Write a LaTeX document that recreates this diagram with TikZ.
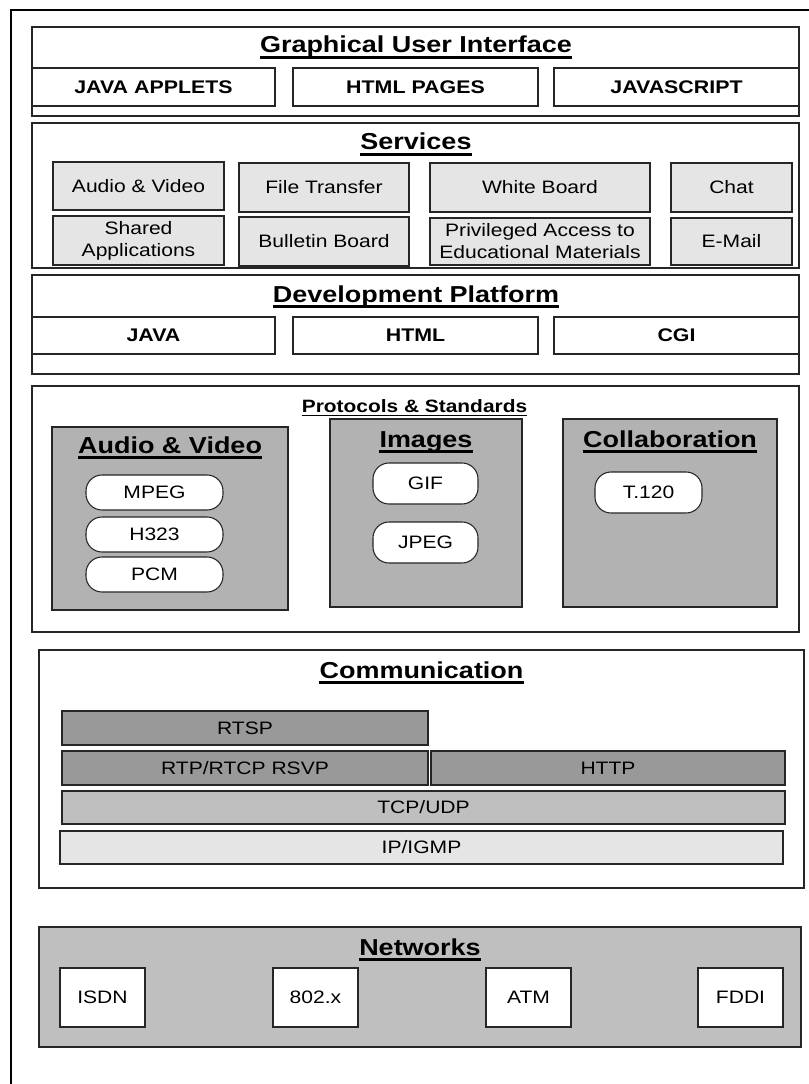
\documentclass[tikz,border=0pt]{standalone}
\usepackage{fontspec}
\setmainfont{Liberation Sans}[FakeStretch=1.17]
\usetikzlibrary{fit}
\definecolor{lightfill}{gray}{0.90}
\definecolor{protofill}{gray}{0.70}
\definecolor{darkfill}{gray}{0.60}
\definecolor{netfill}{gray}{0.75}

\begin{document}
\begin{tikzpicture}[x=0.75pt,y=-0.75pt,
      layer/.style={draw=black!85,line width=0.8pt,inner sep=0pt},
      lbl/.style={align=center,font=\fontsize{13.5}{16.5}\selectfont},
      cell/.style={layer,label={[lbl]center:#1}},
      bcell/.style={layer,label={[lbl,font=\fontsize{13.7}{16}\selectfont\bfseries]center:#1}},
      svc/.style={cell={#1},fill=lightfill},
      pill/.style={cell={#1},fill=white,rounded corners=12pt},
      ttl/.style={inner sep=0pt,anchor=base,font=\fontsize{17.3}{20}\selectfont\bfseries},
      uline/.style={line width=1.8pt},
  ]
  \useasboundingbox (0,0) rectangle (809,1084);
  % outer frame (top and left only)
  \draw[line width=2.2pt] (11,1084) -- (11,10) -- (809,10);

  %--- Graphical User Interface ---
  \node[layer,fit={(32,27) (799,116)}] (gui) {};
  \node[ttl] (gui-t) at (416,53) {Graphical User Interface};
  \node[bcell={JAVA APPLETS},fit={(32,68) (275,106)}] (applets) {};
  \node[bcell={HTML PAGES},fit={(293,68) (538,106)}] (pages) {};
  \node[bcell={JAVASCRIPT},fit={(554,68) (799,106)}] (script) {};

  %--- Services ---
  \node[layer,fit={(32,123) (799,268)}] (svcs) {};
  \node[ttl] (svcs-t) at (416,150) {Services};
  \node[svc={Audio \& Video},fit={(53,162) (224,210)}] (av) {};
  \node[svc={File Transfer},fit={(239,163) (409,212)}] (ftp) {};
  \node[svc={White Board},fit={(430,163) (650,212)}] (wb) {};
  \node[svc={Chat},fit={(671,163) (792,212)}] (chat) {};
  \node[svc={Shared\\Applications},fit={(53,216) (224,265)}] (shared) {};
  \node[svc={Bulletin Board},fit={(239,217) (409,266)}] (bb) {};
  \node[svc={Privileged Access to\\Educational Materials},fit={(430,218) (650,265)}] (priv) {};
  \node[svc={E-Mail},fit={(671,218) (792,265)}] (mail) {};

  %--- Development Platform ---
  \node[layer,fit={(32,275) (799,374)}] (dev) {};
  \node[ttl] (dev-t) at (416,302) {Development Platform};
  \node[bcell={JAVA},fit={(32,317) (275,354)}] (java) {};
  \node[bcell={HTML},fit={(293,317) (538,354)}] (html) {};
  \node[bcell={CGI},fit={(554,317) (799,354)}] (cgi) {};

  %--- Protocols & Standards ---
  \node[layer,fit={(32,386) (799,632)}] (proto) {};
  \node[ttl,font=\fontsize{13.4}{16}\selectfont\bfseries] (proto-t) at (414.5,412)
    {Protocols \& Standards};
  \node[layer,fill=protofill,fit={(52,427) (288,610)}] (pav) {};
  \node[layer,fill=protofill,fit={(330,419) (522,607)}] (pimg) {};
  \node[layer,fill=protofill,fit={(563,419) (777,607)}] (pcol) {};
  \node[ttl] (pav-t) at (170,453) {Audio \& Video};
  \node[ttl] (pimg-t) at (426,447) {Images};
  \node[ttl] (pcol-t) at (670,447) {Collaboration};
  \node[pill={MPEG},fit={(86,475) (223,510)}] (mpeg) {};
  \node[pill={H323},fit={(86,517) (223,552)}] (h323) {};
  \node[pill={PCM},fit={(86,557) (223,592)}] (pcm) {};
  \node[pill={GIF},fit={(373,463) (478,504)}] (gif) {};
  \node[pill={JPEG},fit={(373,522) (478,563)}] (jpeg) {};
  \node[pill={T.120},fit={(595,472) (702,513)}] (t120) {};

  %--- Communication ---
  \node[layer,fit={(39,650) (804,888)}] (comm) {};
  \node[ttl] (comm-t) at (421.5,678) {Communication};
  \node[cell={RTSP},fill=darkfill,fit={(62,711) (428,745)}] (rtsp) {};
  \node[cell={RTP/RTCP RSVP},fill=darkfill,fit={(62,751) (428,785)}] (rtp) {};
  \node[cell={HTTP},fill=darkfill,fit={(431,751) (785,785)}] (http) {};
  \node[cell={TCP/UDP},fill=netfill,fit={(62,791) (785,824)}] (tcp) {};
  \node[cell={IP/IGMP},fill=lightfill,fit={(60,831) (783,864)}] (ip) {};

  %--- Networks ---
  \node[layer,fill=netfill,fit={(39,927) (801,1047)}] (net) {};
  \node[ttl] (net-t) at (420,955) {Networks};
  \node[cell={ISDN},fill=white,fit={(60,968) (145,1027)}] (isdn) {};
  \node[cell={802.x},fill=white,fit={(273,968) (358,1027)}] (ieee) {};
  \node[cell={ATM},fill=white,fit={(486,968) (571,1027)}] (atm) {};
  \node[cell={FDDI},fill=white,fit={(698,968) (783,1027)}] (fddi) {};

  % underlined titles
  \foreach \t in {gui-t,svcs-t,dev-t,pav-t,pimg-t,pcol-t,comm-t,net-t}
    \draw[uline] ([yshift=-3.5pt]\t.base west) -- ([yshift=-3.5pt]\t.base east);
  \draw[line width=1.2pt] ([yshift=-2.5pt]proto-t.base west) -- ([yshift=-2.5pt]proto-t.base east);
\end{tikzpicture}
\end{document}
